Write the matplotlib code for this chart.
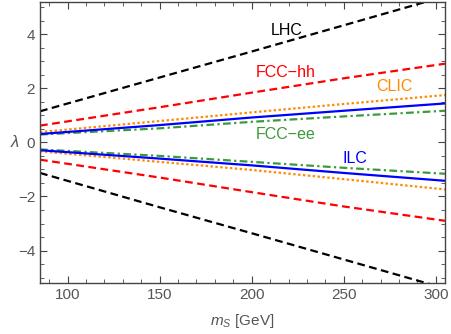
import numpy as np
import matplotlib
matplotlib.use('Agg')
import matplotlib.pyplot as plt
from matplotlib.ticker import MultipleLocator

plt.rcParams['font.family'] = ['Liberation Sans', 'DejaVu Sans']
plt.rcParams['mathtext.fontset'] = 'custom'
plt.rcParams['mathtext.it'] = 'Liberation Sans:italic'
plt.rcParams['mathtext.rm'] = 'Liberation Sans'

m_s = [85, 150, 200, 250, 305]

# upper / lower bounds on lambda per collider
lhc_up = [1.15, 2.40, 3.36, 4.33, 5.40]
lhc_lo = [-1.13, -2.40, -3.36, -4.33, -5.40]
fcchh_up = [0.62, 1.30, 1.84, 2.37, 2.91]
fcchh_lo = [-0.64, -1.30, -1.84, -2.37, -2.90]
clic_up = [0.38, 0.79, 1.11, 1.42, 1.75]
clic_lo = [-0.33, -0.72, -1.02, -1.36, -1.74]
ilc_up = [0.31, 0.64, 0.92, 1.17, 1.44]
ilc_lo = [-0.29, -0.60, -0.85, -1.13, -1.42]
fccee_up = [0.29, 0.52, 0.76, 0.96, 1.17]
fccee_lo = [-0.26, -0.50, -0.72, -0.94, -1.16]

# label text and placement (data coords)
labels = ['LHC', 'FCC\u2212hh', 'CLIC', 'FCC\u2212ee', 'ILC']
label_x = [219, 218.5, 277.5, 218.5, 256]
label_y = [4.15, 2.6, 2.05, 0.29, -0.59]

black = 'black'
red = '#ff0000'
orange = '#ff8c00'
blue = '#0000ff'
green = '#3b9b3b'
colors = [black, red, orange, green, blue]

fig = plt.figure(figsize=(4.52, 3.34), dpi=100)
ax = fig.add_axes([0.0885, 0.1527, 0.896, 0.842])

lw = 1.6
for up, lo, c, ls in [
    (lhc_up, lhc_lo, black, (0, (3.5, 2))),
    (fcchh_up, fcchh_lo, red, (0, (3.5, 2))),
    (clic_up, clic_lo, orange, (0, (1.1, 1.1))),
    (fccee_up, fccee_lo, green, (0, (3.5, 1.5, 1, 1.5))),
    (ilc_up, ilc_lo, blue, '-'),
]:
    ax.plot(m_s, up, color=c, linestyle=ls, linewidth=lw)
    ax.plot(m_s, lo, color=c, linestyle=ls, linewidth=lw)

for t, x, y, c in zip(labels, label_x, label_y, colors):
    ax.text(x, y, t, color=c, fontsize=11.5, ha='center', va='center')

ax.set_xlim(85, 305)
ax.set_ylim(-5.2, 5.2)
ax.xaxis.set_major_locator(MultipleLocator(50))
ax.xaxis.set_minor_locator(MultipleLocator(10))
ax.yaxis.set_minor_locator(MultipleLocator(0.5))

frame = '#444444'
for sp in ax.spines.values():
    sp.set_color(frame)
    sp.set_linewidth(1.0)
ax.tick_params(which='both', direction='in', top=True, right=True,
               color=frame, labelcolor='#555555', labelsize=11)
ax.tick_params(which='major', length=5, width=0.8)
ax.tick_params(which='minor', length=3, width=0.6)
ax.set_yticks([-4, -2, 0, 2, 4])
ax.set_yticklabels(['\u22124', '\u22122', '0', '2', '4'])

ax.set_xlabel('$m_S$ [GeV]', color='#555555', fontsize=11, labelpad=7)
ax.set_ylabel('$\\lambda$', color='#555555', fontsize=12, rotation=0, va='center', ha='center')
ax.yaxis.set_label_coords(-0.062, 0.5)

fig.savefig('out.png', dpi=100)
